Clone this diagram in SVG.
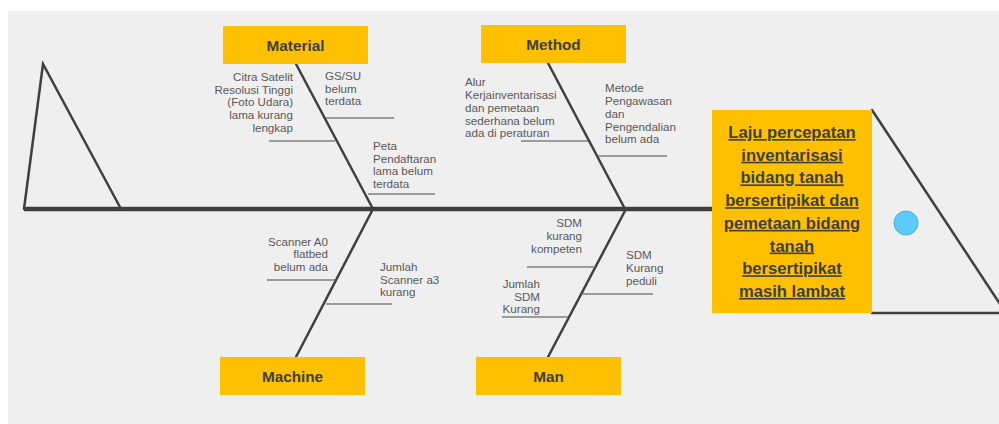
<svg xmlns="http://www.w3.org/2000/svg" width="999" height="424" viewBox="0 0 999 424">
<style>
.bg{fill:#efefef}
.box{fill:#ffc000}
.title{font-family:"Liberation Sans",Arial,sans-serif;font-weight:bold;font-size:15.3px;fill:#404040;text-anchor:middle}
.t{font-family:"Liberation Sans",Arial,sans-serif;font-size:11.6px;fill:#595959}
.r{text-anchor:end}
.bone{stroke:#404040;stroke-width:2.5;fill:none;stroke-linecap:round}
.sub{stroke:#7f7f7f;stroke-width:1.3;fill:none}
.spine{stroke:#404040;stroke-width:4.5;fill:none}
.eff{font-family:"Liberation Sans",Arial,sans-serif;font-weight:bold;font-size:16.6px;fill:#404040;text-anchor:middle;text-decoration:underline}
</style>
<rect class="bg" x="8" y="11" width="991" height="413"/>
<g id="connectors">
<line class="spine" x1="24" y1="209" x2="712" y2="209"/>
<polyline class="bone" points="121,209 43,64 24,209"/>
<line class="bone" x1="296" y1="64" x2="373" y2="209"/>
<line class="bone" x1="548" y1="63" x2="625" y2="209"/>
<line class="bone" x1="296" y1="357" x2="373" y2="209"/>
<line class="bone" x1="548" y1="357" x2="626" y2="209"/>
<line class="sub" x1="326" y1="118" x2="394" y2="118"/>
<line class="sub" x1="269" y1="141" x2="335" y2="141"/>
<line class="sub" x1="368" y1="194" x2="435" y2="194"/>
<line class="sub" x1="521" y1="141" x2="588" y2="141"/>
<line class="sub" x1="598" y1="156" x2="667" y2="156"/>
<line class="sub" x1="267" y1="280" x2="335" y2="280"/>
<line class="sub" x1="326" y1="304" x2="392" y2="304"/>
<line class="sub" x1="527" y1="267" x2="595" y2="267"/>
<line class="sub" x1="583" y1="294" x2="653" y2="294"/>
<line class="sub" x1="502" y1="317" x2="568" y2="317"/>
<line class="bone" x1="872" y1="110" x2="1000" y2="304"/>
<line class="bone" x1="872" y1="313" x2="999" y2="313"/>
</g>
<g id="material">
<rect class="box" x="223" y="26" width="145" height="38"/>
<text class="title" x="295.5" y="50.5">Material</text>
</g>
<g id="method">
<rect class="box" x="481" y="25" width="145" height="38"/>
<text class="title" x="553.5" y="49.5">Method</text>
</g>
<g id="machine">
<rect class="box" x="220" y="357" width="145" height="38"/>
<text class="title" x="292.5" y="381.5">Machine</text>
</g>
<g id="man">
<rect class="box" x="476" y="357" width="145" height="38"/>
<text class="title" x="548.5" y="381.5">Man</text>
</g>
<g id="cause-citra">
<text class="t r" x="293" y="81">Citra Satelit</text>
<text class="t r" x="293" y="93.7">Resolusi Tinggi</text>
<text class="t r" x="293" y="106.4">(Foto Udara)</text>
<text class="t r" x="293" y="119.1">lama kurang</text>
<text class="t r" x="293" y="131.8">lengkap</text>
</g>
<g id="cause-gssu">
<text class="t" x="325" y="80">GS/SU</text>
<text class="t" x="325" y="93">belum</text>
<text class="t" x="325" y="105">terdata</text>
</g>
<g id="cause-peta">
<text class="t" x="373" y="150">Peta</text>
<text class="t" x="373" y="163">Pendaftaran</text>
<text class="t" x="373" y="175">lama belum</text>
<text class="t" x="373" y="188">terdata</text>
</g>
<g id="cause-alur">
<text class="t" x="465" y="86">Alur</text>
<text class="t" x="465" y="99">Kerjainventarisasi</text>
<text class="t" x="465" y="112">dan pemetaan</text>
<text class="t" x="465" y="125">sederhana belum</text>
<text class="t" x="465" y="137">ada di peraturan</text>
</g>
<g id="cause-metode">
<text class="t" x="605" y="92">Metode</text>
<text class="t" x="605" y="105">Pengawasan</text>
<text class="t" x="605" y="118">dan</text>
<text class="t" x="605" y="131">Pengendalian</text>
<text class="t" x="605" y="143">belum ada</text>
</g>
<g id="cause-scanner-a0">
<text class="t r" x="328" y="246">Scanner A0</text>
<text class="t r" x="328" y="258">flatbed</text>
<text class="t r" x="328" y="271">belum ada</text>
</g>
<g id="cause-scanner-a3">
<text class="t" x="380" y="271">Jumlah</text>
<text class="t" x="380" y="284">Scanner a3</text>
<text class="t" x="380" y="296">kurang</text>
</g>
<g id="cause-sdm-kompeten">
<text class="t r" x="582" y="227">SDM</text>
<text class="t r" x="582" y="240">kurang</text>
<text class="t r" x="582" y="253">kompeten</text>
</g>
<g id="cause-sdm-peduli">
<text class="t" x="626" y="259">SDM</text>
<text class="t" x="626" y="272">Kurang</text>
<text class="t" x="626" y="285">peduli</text>
</g>
<g id="cause-jumlah-sdm">
<text class="t r" x="540" y="288">Jumlah</text>
<text class="t r" x="540" y="301">SDM</text>
<text class="t r" x="540" y="313">Kurang</text>
</g>
<g id="effect">
<rect class="box" x="712" y="110" width="160" height="203"/>
<text class="eff" x="792" y="138">Laju percepatan</text>
<text class="eff" x="792" y="160.7">inventarisasi</text>
<text class="eff" x="792" y="183.4">bidang tanah</text>
<text class="eff" x="792" y="206.1">bersertipikat dan</text>
<text class="eff" x="792" y="228.8">pemetaan bidang</text>
<text class="eff" x="792" y="251.5">tanah</text>
<text class="eff" x="792" y="274.2">bersertipikat</text>
<text class="eff" x="792" y="296.9">masih lambat</text>
</g>
<g id="head-dot">
<circle cx="906" cy="223" r="12" fill="#5bcbf7" stroke="#45aee0" stroke-width="1"/>
</g>
</svg>
